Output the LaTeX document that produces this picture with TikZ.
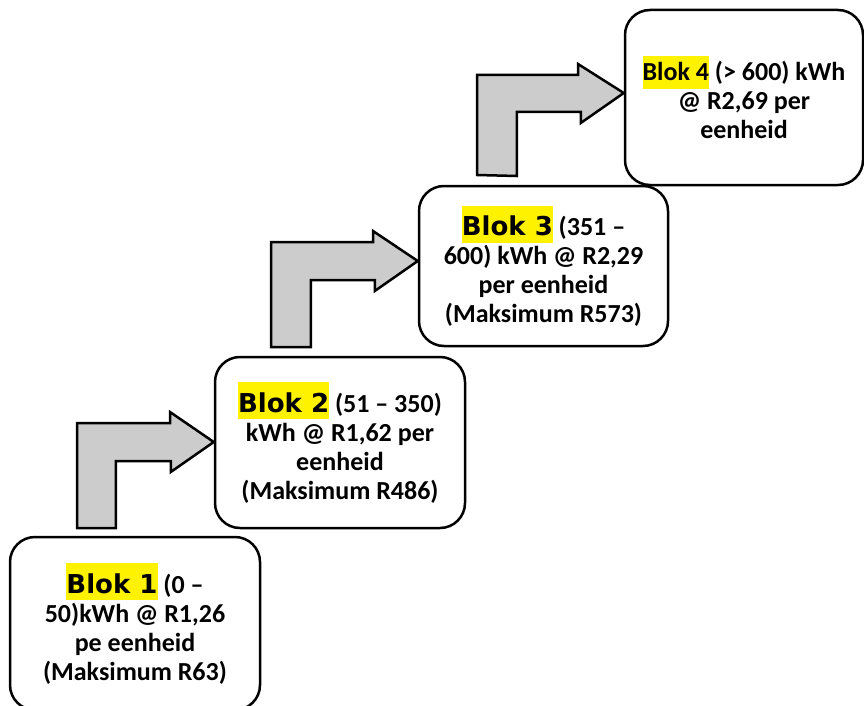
\documentclass[tikz,border=0pt]{standalone}
\usepackage{fontspec}
\setmainfont{Carlito}
\newfontfamily\blokfont{DejaVu Sans}
\usepackage{tikz}
\usetikzlibrary{positioning,calc}
\tikzset{>=latex}
\colorlet{pylgrys}{gray!40}

% yellow marker behind the block names
\newcommand{\geelblok}[1]{{\setlength{\fboxsep}{0pt}\colorbox{yellow}{\blokfont\vrule height 30pt depth 7pt width 0pt#1}}}
\newcommand{\geel}[1]{{\setlength{\fboxsep}{0pt}\colorbox{yellow}{\vrule height 24pt depth 9pt width 0pt#1}}}

\begin{document}
\begin{tikzpicture}[x=1pt, y=-1pt,
  BLOK/.style={draw, line width=2.5pt, rounded corners=25pt,
               align=center, inner sep=0pt,
               font=\bfseries\fontsize{26}{29}\selectfont},
  PYL/.style={draw, line width=2.5pt, fill=pylgrys, line join=miter}
]
\useasboundingbox (0,0) rectangle (864,706);

% the four blocks
\node (b1) [BLOK, minimum width=250pt, minimum height=173pt] at (135,623.5)
  {\geelblok{Blok 1} (0 –\\ 50)kWh @ R1,26\\ pe eenheid\\ (Maksimum R63)};
\node (b2) [BLOK, minimum width=250pt, minimum height=171pt] at (340,442.5)
  {\geelblok{Blok 2} (51 – 350)\\ kWh @ R1,62 per\\ eenheid\\ (Maksimum R486)};
\node (b3) [BLOK, minimum width=249pt, minimum height=160pt] at (543.5,266)
  {\geelblok{Blok 3} (351 –\\ 600) kWh @ R2,29\\ per eenheid\\ (Maksimum R573)};
\node (b4) [BLOK, minimum width=238pt, minimum height=175pt] at (744,97.5)
  {\geel{Blok 4} (> 600) kWh\\ @ R2,69 per\\ eenheid};

% bent arrows between the blocks
\draw[PYL] (77,528) coordinate (p1)
  -- ++(0,-105) -- ++(93,0) -- ++(0,-11) -- (b2.west |- 0,442) coordinate (t1)
  -- ($(t1)+(-43,30)$) -- ++(0,-11) -- ++(-55,0) -- ++(0,67) -- cycle;
\draw[PYL] (271,347) coordinate (p2)
  -- ++(0,-105) -- ++(102,0) -- ++(0,-11) -- (b3.west |- 0,261) coordinate (t2)
  -- ($(t2)+(-43,30)$) -- ++(0,-11) -- ++(-64,0) -- ++(0,67) -- cycle;
\draw[PYL] (477,175) coordinate (p3)
  -- ++(0,-100) -- ++(101,0) -- ++(0,-11) -- (b4.west |- 0,93) coordinate (t3)
  -- ($(t3)+(-43,30)$) -- ++(0,-11) -- ++(-64,0) -- ++(0,64) -- cycle;
\end{tikzpicture}
\end{document}
